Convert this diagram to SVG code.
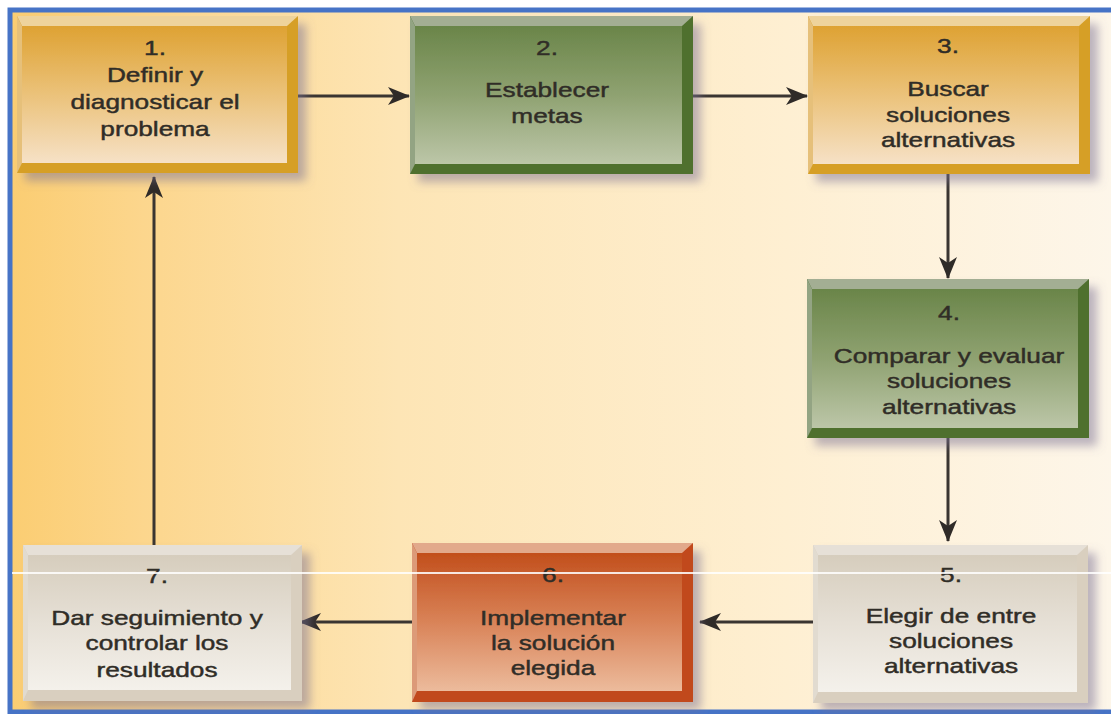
<svg xmlns="http://www.w3.org/2000/svg" width="1111" height="714" viewBox="0 0 1111 714">
  <defs>
    <linearGradient id="bg" x1="0" y1="0" x2="1" y2="0">
      <stop offset="0" stop-color="#fbcd72"/>
      <stop offset="0.12" stop-color="#fcd68d"/>
      <stop offset="0.35" stop-color="#fde5b5"/>
      <stop offset="0.7" stop-color="#feefd2"/>
      <stop offset="1" stop-color="#fdf6ea"/>
    </linearGradient>
    <linearGradient id="faceGold" x1="0" y1="0" x2="0" y2="1">
      <stop offset="0" stop-color="#dea233"/>
      <stop offset="0.5" stop-color="#ebc27a"/>
      <stop offset="1" stop-color="#f6e1c6"/>
    </linearGradient>
    <linearGradient id="faceGreen" x1="0" y1="0" x2="0" y2="1">
      <stop offset="0" stop-color="#6a8549"/>
      <stop offset="0.5" stop-color="#8fa271"/>
      <stop offset="1" stop-color="#bcc6a8"/>
    </linearGradient>
    <linearGradient id="faceRed" x1="0" y1="0" x2="0" y2="1">
      <stop offset="0" stop-color="#c24f1c"/>
      <stop offset="0.5" stop-color="#d98358"/>
      <stop offset="1" stop-color="#ecbb9c"/>
    </linearGradient>
    <linearGradient id="faceGray" x1="0" y1="0" x2="0" y2="1">
      <stop offset="0" stop-color="#d6cdbd"/>
      <stop offset="0.5" stop-color="#e6e0d6"/>
      <stop offset="1" stop-color="#f4f1eb"/>
    </linearGradient>
    <filter id="shadow" x="-10%" y="-10%" width="125%" height="130%">
      <feDropShadow dx="8" dy="8" stdDeviation="5" flood-color="#7a6f92" flood-opacity="0.5"/>
    </filter>
    <marker id="arrow" viewBox="0 0 22 18" refX="21" refY="9" markerWidth="22" markerHeight="18" markerUnits="userSpaceOnUse" orient="auto">
      <path d="M0,0 L22,9 L0,18 L6,9 Z" fill="#2f2b28"/>
    </marker>
    <style>
      .lbl { font-family: "Liberation Sans", Arial, sans-serif; font-size: 21px; fill: #302d27; stroke: #302d27; stroke-width: 0.45; text-anchor: middle; }
      .conn { stroke: #3a3531; stroke-width: 3; fill: none; marker-end: url(#arrow); }
      .gold .dark { fill: #d69f25; } .gold .top { fill: #eed39c; } .gold .left { fill: #e6c07a; } .gold .face { fill: url(#faceGold); }
      .green .dark { fill: #4f6f2d; } .green .top { fill: #a3ae93; } .green .left { fill: #93a483; } .green .face { fill: url(#faceGreen); }
      .red .dark { fill: #c1491a; } .red .top { fill: #e2a98b; } .red .left { fill: #dc9a78; } .red .face { fill: url(#faceRed); }
      .gray .dark { fill: #d9cfbf; } .gray .top { fill: #e6e0d7; } .gray .left { fill: #e1dbd0; } .gray .face { fill: url(#faceGray); }
    </style>
  </defs>

  <!-- page and frame -->
  <rect x="0" y="0" width="1111" height="714" fill="#ffffff"/>
  <rect x="10" y="10" width="1110" height="702" fill="url(#bg)" stroke="#4673c6" stroke-width="5"/>

  <!-- connectors -->
  <g id="connectors">
    <line class="conn" x1="298" y1="96" x2="409" y2="96"/>
    <line class="conn" x1="693" y1="96" x2="807" y2="96"/>
    <line class="conn" x1="948" y1="173" x2="948" y2="278"/>
    <line class="conn" x1="948" y1="438" x2="948" y2="541"/>
    <line class="conn" x1="813" y1="622" x2="700" y2="622"/>
    <line class="conn" x1="412" y1="622" x2="300" y2="622"/>
    <line class="conn" x1="154" y1="545" x2="154" y2="177"/>
  </g>

  <!-- 1 -->
  <g id="node1" class="gold">
    <g filter="url(#shadow)">
      <rect class="dark" x="17" y="16" width="281" height="157"/>
      <polygon class="top" points="17,16 298,16 287,26 22,26"/>
      <polygon class="left" points="17,16 22,26 22,163 17,173"/>
      <rect class="face" x="22" y="26" width="265" height="137"/>
    </g>
    <g transform="translate(155 0) scale(1.25 1)">
      <text class="lbl" x="0" y="55">1.</text>
      <text class="lbl" x="0" y="82">Definir y</text>
      <text class="lbl" x="0" y="109">diagnosticar el</text>
      <text class="lbl" x="0" y="136">problema</text>
    </g>
  </g>

  <!-- 2 -->
  <g id="node2" class="green">
    <g filter="url(#shadow)">
      <rect class="dark" x="410" y="16" width="283" height="158"/>
      <polygon class="top" points="410,16 693,16 682,26 415,26"/>
      <polygon class="left" points="410,16 415,26 415,164 410,174"/>
      <rect class="face" x="415" y="26" width="267" height="138"/>
    </g>
    <g transform="translate(547 0) scale(1.25 1)">
      <text class="lbl" x="0" y="55">2.</text>
      <text class="lbl" x="0" y="97">Establecer</text>
      <text class="lbl" x="0" y="123">metas</text>
    </g>
  </g>

  <!-- 3 -->
  <g id="node3" class="gold">
    <g filter="url(#shadow)">
      <rect class="dark" x="808" y="16" width="282" height="158"/>
      <polygon class="top" points="808,16 1090,16 1079,26 813,26"/>
      <polygon class="left" points="808,16 813,26 813,164 808,174"/>
      <rect class="face" x="813" y="26" width="266" height="138"/>
    </g>
    <g transform="translate(948 0) scale(1.25 1)">
      <text class="lbl" x="0" y="53">3.</text>
      <text class="lbl" x="0" y="96">Buscar</text>
      <text class="lbl" x="0" y="122">soluciones</text>
      <text class="lbl" x="0" y="147">alternativas</text>
    </g>
  </g>

  <!-- 4 -->
  <g id="node4" class="green">
    <g filter="url(#shadow)">
      <rect class="dark" x="807" y="279" width="282" height="159"/>
      <polygon class="top" points="807,279 1089,279 1078,289 812,289"/>
      <polygon class="left" points="807,279 812,289 812,428 807,438"/>
      <rect class="face" x="812" y="289" width="266" height="139"/>
    </g>
    <g transform="translate(949 0) scale(1.25 1)">
      <text class="lbl" x="0" y="320">4.</text>
      <text class="lbl" x="0" y="363">Comparar y evaluar</text>
      <text class="lbl" x="0" y="388">soluciones</text>
      <text class="lbl" x="0" y="414">alternativas</text>
    </g>
  </g>

  <!-- 5 -->
  <g id="node5" class="gray">
    <g filter="url(#shadow)">
      <rect class="dark" x="813" y="545" width="275" height="158"/>
      <polygon class="top" points="813,545 1088,545 1077,555 818,555"/>
      <polygon class="left" points="813,545 818,555 818,692 813,703"/>
      <rect class="face" x="818" y="555" width="259" height="137"/>
    </g>
    <g transform="translate(951 0) scale(1.25 1)">
      <text class="lbl" x="0" y="582">5.</text>
      <text class="lbl" x="0" y="623">Elegir de entre</text>
      <text class="lbl" x="0" y="648">soluciones</text>
      <text class="lbl" x="0" y="673">alternativas</text>
    </g>
  </g>

  <!-- 6 -->
  <g id="node6" class="red">
    <g filter="url(#shadow)">
      <rect class="dark" x="412" y="543" width="281" height="159"/>
      <polygon class="top" points="412,543 693,543 682,553 417,553"/>
      <polygon class="left" points="412,543 417,553 417,691 412,702"/>
      <rect class="face" x="417" y="553" width="265" height="138"/>
    </g>
    <g transform="translate(553 0) scale(1.25 1)">
      <text class="lbl" x="0" y="582">6.</text>
      <text class="lbl" x="0" y="625">Implementar</text>
      <text class="lbl" x="0" y="650">la solución</text>
      <text class="lbl" x="0" y="675">elegida</text>
    </g>
  </g>

  <!-- 7 -->
  <g id="node7" class="gray">
    <g filter="url(#shadow)">
      <rect class="dark" x="23" y="545" width="279" height="156"/>
      <polygon class="top" points="23,545 302,545 291,555 28,555"/>
      <polygon class="left" points="23,545 28,555 28,690 23,701"/>
      <rect class="face" x="28" y="555" width="263" height="135"/>
    </g>
    <g transform="translate(157 0) scale(1.25 1)">
      <text class="lbl" x="0" y="583">7.</text>
      <text class="lbl" x="0" y="625">Dar seguimiento y</text>
      <text class="lbl" x="0" y="650">controlar los</text>
      <text class="lbl" x="0" y="677">resultados</text>
    </g>
  </g>

  <!-- thin light rule crossing the lower row -->
  <line x1="12" y1="573" x2="1111" y2="573" stroke="#ffffff" stroke-width="2" stroke-opacity="0.85"/>
</svg>
